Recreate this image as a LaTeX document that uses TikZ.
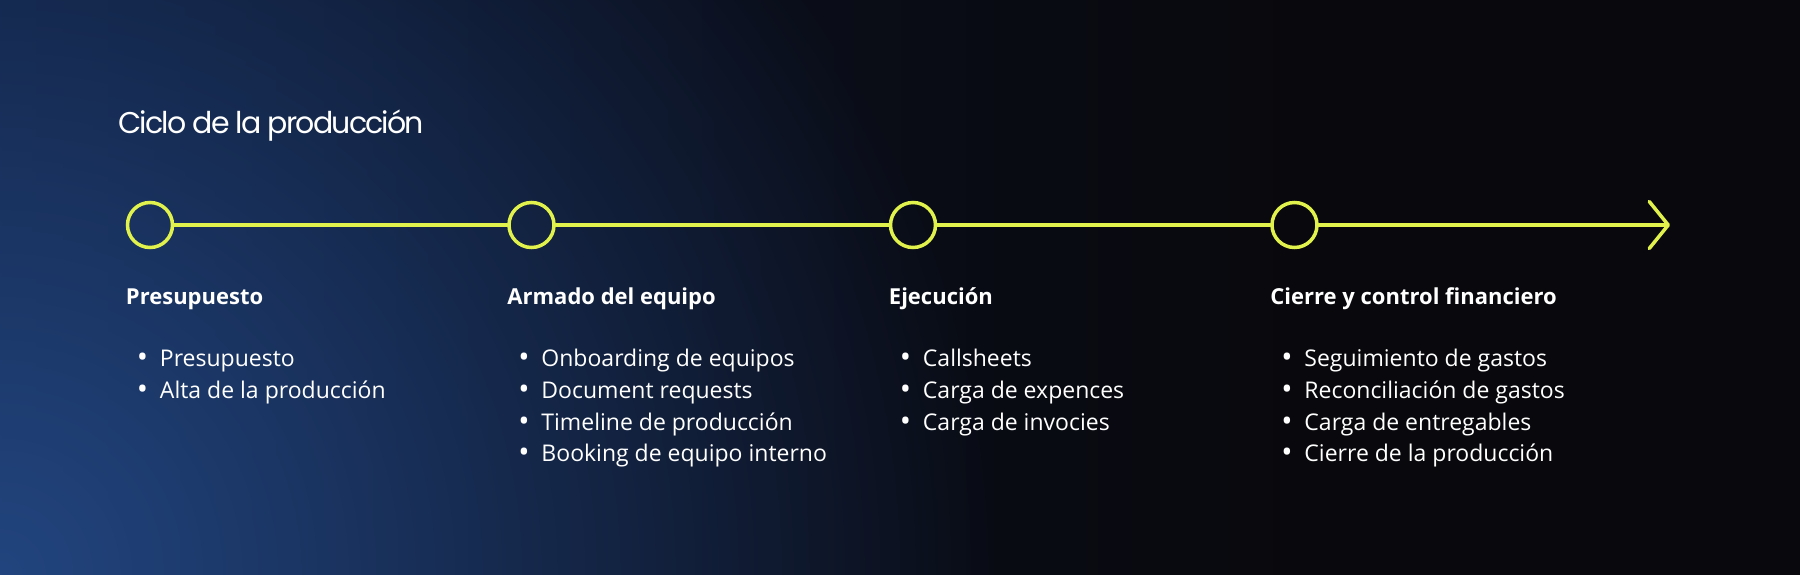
\documentclass[tikz,border=0pt]{standalone}
\usepackage{fontspec}
\setmainfont{Open Sans}
\newfontfamily\titlefont[LetterSpace=-6]{Poppins}
\usepackage{xcolor}
\usepackage{graphicx}
\usepackage{tikz}
\usetikzlibrary{positioning,arrows.meta,fadings}
\definecolor{lime}{HTML}{E2F24C}
\definecolor{bgA}{HTML}{10204A}
\definecolor{bgB}{HTML}{0D1A38}
\definecolor{bgC}{HTML}{0A0F1E}
\definecolor{bgD}{HTML}{09090D}
\definecolor{glowblue}{HTML}{22457F}
\pgfdeclarehorizontalshading{bgshade}{100bp}{color(0bp)=(bgA); color(17bp)=(bgB); color(39bp)=(bgC); color(61bp)=(bgD); color(100bp)=(bgD)}
\tikzfading[name=glowfade,inner color=transparent!0,outer color=transparent!100]
\newcommand{\itm}{\makebox[0pt][c]{\raisebox{-1pt}{\scalebox{1.3}{\textbullet}}}\hspace{17.5pt}}
\newcommand{\itemlist}[1]{\begin{tabular}[t]{@{}l@{}}#1\end{tabular}}

\begin{document}
\begin{tikzpicture}[x=1pt,y=-1pt,
    every node/.style={on grid,node distance=381.5pt,inner sep=0pt,text=white},
    stage/.style={circle,draw=lime,line width=3.5pt,minimum size=45pt},
    link/.style={draw=lime,line width=3.5pt,line cap=round},
    heading/.style={anchor=base west,font=\bfseries\fontsize{22}{26}\selectfont},
    items/.style={anchor=base west,font=\fontsize{23}{31.7}\selectfont}]
    \useasboundingbox (0,0) rectangle (1800,574);
    \shade[shading=bgshade] (0,0) rectangle (1800,574);
    \fill[glowblue,path fading=glowfade] (0,574) circle (1000);

    \node[anchor=base west,font=\titlefont\fontsize{30}{36}\selectfont] (Title) at (118,133.5) {Ciclo de la producción};

    \node[stage] (S1) at (150,225) {};
    \node[stage,right=of S1] (S2) {};
    \node[stage,right=of S2] (S3) {};
    \node[stage,right=of S3] (S4) {};
    \coordinate[right=375.5pt of S4] (End);
    \draw[link] (S1) -- (S2);
    \draw[link] (S2) -- (S3);
    \draw[link] (S3) -- (S4);
    \draw[link,-{Straight Barb[length=19pt,width=47pt,round]}] (S4) -- (End);

    \node[below=79pt of S1.west,heading] (H1) {Presupuesto};
    \node[below=79pt of S2.west,heading] (H2) {Armado del equipo};
    \node[below=79pt of S3.west,heading] (H3) {Ejecución};
    \node[below=79pt of S4.west,heading] (H4) {Cierre y control financiero};

    \node[below right=62.7pt and 16.5pt of H1.base west,items] (L1)
      {\itemlist{\itm Presupuesto\\\itm Alta de la producción}};
    \node[below right=62.7pt and 16.5pt of H2.base west,items] (L2)
      {\itemlist{\itm Onboarding de equipos\\\itm Document requests\\\itm Timeline de producción\\\itm Booking de equipo interno}};
    \node[below right=62.7pt and 16.5pt of H3.base west,items] (L3)
      {\itemlist{\itm Callsheets\\\itm Carga de expences\\\itm Carga de invocies}};
    \node[below right=62.7pt and 16.5pt of H4.base west,items] (L4)
      {\itemlist{\itm Seguimiento de gastos\\\itm Reconciliación de gastos\\\itm Carga de entregables\\\itm Cierre de la producción}};
\end{tikzpicture}
\end{document}
